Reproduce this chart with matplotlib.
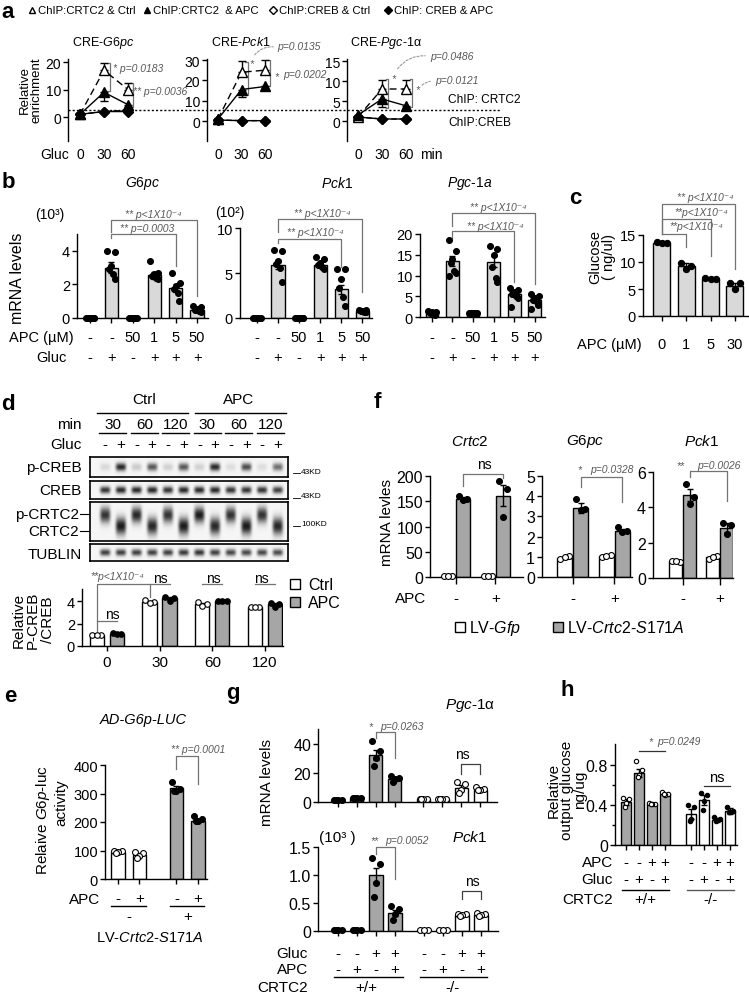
import numpy as np
import matplotlib
matplotlib.use("Agg")
import matplotlib.pyplot as plt
from matplotlib.patches import Rectangle
from matplotlib.transforms import blended_transform_factory

plt.rcParams["font.family"] = ["Liberation Sans", "DejaVu Sans"]
plt.rcParams["mathtext.fontset"] = "custom"
plt.rcParams["mathtext.rm"] = "Liberation Sans"
plt.rcParams["mathtext.it"] = "Liberation Sans:italic"
plt.rcParams["axes.linewidth"] = 1.0

GREY = "#a6a6a6"
LIGHT = "#d9d9d9"
PCOL = "0.35"

# ---------------- data ----------------
# a : ChIP time course
a_time = [0, 30, 60]
a_titles = [r"CRE-$\it{G6pc}$", r"CRE-$\it{Pck1}$", r"CRE-$\it{Pgc}$-$\it{1}$α"]
crtc2_ctrl = [[1, 17, 10], [1, 24, 25], [1, 8, 8]]
crtc2_ctrl_err = [[0.5, 2.5, 2.3], [0.5, 5.5, 5.0], [0.3, 2.3, 2.3]]
crtc2_apc = [[1, 9, 4.5], [1, 15.5, 17], [1.5, 5.5, 3.8]]
crtc2_apc_err = [[0.5, 3.3, 1.0], [0.5, 3.5, 1.0], [0.3, 2.0, 0.5]]
creb_ctrl = [[1, 2, 2.5], [0.5, 0.2, 0.2], [1, 0.5, 0.5]]
creb_apc = [[1, 2, 2], [0.5, 0.2, 0.2], [1, 0.5, 0.5]]

# b : mRNA levels
b_apc = ["-", "-", "50", "1", "5", "50"]
b_gluc = ["-", "+", "-", "+", "+", "+"]
g6pc_b = [0.02, 3.0, 0.02, 2.55, 1.8, 0.5]
g6pc_b_err = [0.01, 0.35, 0.01, 0.2, 0.25, 0.06]
g6pc_b_pts = [[0.02] * 6, [4.0, 3.9, 3.1, 2.9, 2.6, 2.3], [0.02] * 6,
              [3.4, 2.7, 2.6, 2.5, 2.4, 2.3], [2.7, 2.1, 1.9, 1.7, 1.5, 1.0],
              [0.7, 0.65, 0.55, 0.5, 0.4, 0.35]]
pck1_b = [0.02, 5.9, 0.02, 5.85, 3.2, 0.8]
pck1_b_err = [0.01, 0.5, 0.01, 0.2, 0.5, 0.05]
pck1_b_pts = [[0.02] * 6, [7.6, 7.5, 6.3, 6.0, 5.6, 4.0], [0.02] * 6,
              [6.8, 6.6, 6.1, 5.9, 5.7, 5.5], [5.5, 5.5, 4.3, 3.3, 2.3, 1.3],
              [0.9, 0.85, 0.8, 0.75, 0.7, 0.7]]
pgc_b = [1.0, 13.5, 1.0, 13.3, 5.6, 4.2]
pgc_b_err = [0.2, 1.2, 0.1, 1.3, 0.5, 0.5]
pgc_b_pts = [[1.5, 1.3, 1.1, 0.9, 0.7, 0.6], [18.5, 16, 14, 13, 11, 10.5, 10], [1.0] * 6,
             [17, 16.5, 15, 12, 9.5, 8.5], [7, 6.5, 6, 5.5, 5, 4.5, 2.5],
             [5.5, 5, 4.5, 4, 3.5, 3, 2]]

# c : glucose output
c_apc = ["0", "1", "5", "30"]
c_glu = [13.6, 9.3, 6.9, 5.6]
c_glu_err = [0.1, 0.5, 0.1, 0.5]
c_glu_pts = [[13.7, 13.6, 13.6], [9.9, 9.3, 8.7], [7.0, 6.9, 6.9], [6.1, 6.1, 5.0]]

# d : western blot + quantification
d_min = ["30", "60", "120"]
d_gluc = ["-", "+"] * 6
pcreb_int = [0.12, 0.85, 0.18, 0.65, 0.15, 0.65, 0.15, 0.85, 0.1, 0.7, 0.1, 0.55]
creb_int = [0.8, 0.85, 0.85, 0.85, 0.8, 0.85, 0.85, 0.85, 0.8, 0.8, 0.8, 0.75]
crtc2_int = [0.8, 0.9, 0.85, 0.85, 0.8, 0.9, 0.9, 0.85, 0.8, 0.9, 0.8, 0.85]
crtc2_phos = [1, 0, 1, 0, 1, 0, 1, 0, 1, 0, 1, 0]
tub_int = [0.75, 0.75, 0.75, 0.75, 0.75, 0.78, 0.8, 0.75, 0.72, 0.72, 0.72, 0.7]
d_groups = ["0", "30", "60", "120"]
d_ctrl = [1.0, 3.9, 3.75, 3.5]
d_ctrl_err = [0.02, 0.1, 0.1, 0.03]
d_ctrl_pts = [[1, 1, 1], [4.1, 3.9, 3.8], [3.9, 3.7, 3.6], [3.5, 3.5, 3.5]]
d_apc = [1.1, 4.3, 4.0, 3.75]
d_apc_err = [0.05, 0.1, 0.03, 0.1]
d_apc_pts = [[1.2, 1.1, 1.05], [4.4, 4.3, 4.0], [4.0, 4.0, 4.0], [3.8, 3.7, 3.5]]

# e : luciferase
e_apc = ["-", "+", "-", "+"]
e_lv = ["-", "+"]
e_luc = [95, 83, 318, 205]
e_luc_err = [4, 7, 8, 5]
e_luc_pts = [[100, 97, 93, 90], [95, 90, 80, 75], [340, 315, 310, 308], [220, 210, 205, 203]]

# f : LV-Crtc2-S171A
f_genes = ["Crtc2", "G6pc", "Pck1"]
f_apc = ["-", "+"]
f_gfp = [[2, 2], [0.95, 1.05], [0.95, 1.2]]
f_gfp_err = [[0.3, 0.3], [0.05, 0.05], [0.03, 0.05]]
f_gfp_pts = [[[2, 2, 2], [2, 2, 2]], [[0.9, 1.05, 1.0], [1.0, 1.1, 1.05]],
             [[0.95, 0.9, 0.95], [1.1, 1.25, 1.2]]]
f_s171a = [[155, 161], [3.4, 2.3], [4.7, 2.85]]
f_s171a_err = [[3, 21], [0.25, 0.1], [0.35, 0.25]]
f_s171a_pts = [[[160, 155, 152], [190, 175, 118]], [[3.85, 3.35, 3.3], [2.5, 2.3, 2.25]],
               [[5.3, 4.6, 4.2], [3.1, 3.0, 2.5]]]

# g : CRTC2 knockout hepatocytes
g_gluc = ["-", "-", "+", "+", "-", "-", "+", "+"]
g_apc = ["-", "+", "-", "+", "-", "+", "-", "+"]
g_pgc = [1.5, 2.5, 32, 16, 2, 2, 9.5, 8.5]
g_pgc_err = [0.2, 0.3, 3.5, 1.2, 0.2, 0.2, 2, 0.8]
g_pgc_pts = [[1.5] * 4, [2.5] * 4, [42, 35, 30, 25], [18, 16.5, 15.5, 14],
             [2] * 4, [2] * 4, [14, 12, 8, 6], [10, 9, 8.5, 8]]
g_pck = [0.01, 0.01, 1.0, 0.32, 0.01, 0.01, 0.28, 0.28]
g_pck_err = [0, 0, 0.12, 0.06, 0, 0, 0.02, 0.02]
g_pck_pts = [[0.01] * 4, [0.01] * 4, [1.3, 1.2, 0.85, 0.6], [0.45, 0.4, 0.3, 0.2],
             [0.01] * 3, [0.01] * 3, [0.3, 0.3, 0.28, 0.26], [0.32, 0.3, 0.28, 0.27]]

# h : glucose output
h_apc = ["-", "-", "+", "+", "-", "-", "+", "+"]
h_gluc = ["-", "+", "-", "+", "-", "+", "-", "+"]
h_glu = [0.43, 0.72, 0.41, 0.51, 0.31, 0.45, 0.25, 0.34]
h_glu_err = [0.03, 0.04, 0.01, 0.01, 0.05, 0.05, 0.02, 0.03]
h_glu_pts = [[0.47, 0.46, 0.42, 0.38], [0.84, 0.75, 0.7, 0.68], [0.42, 0.41, 0.41, 0.41],
             [0.53, 0.51, 0.5, 0.51], [0.4, 0.38, 0.26, 0.24], [0.52, 0.5, 0.44, 0.35],
             [0.28, 0.26, 0.25, 0.24], [0.38, 0.34, 0.33, 0.33]]
genotype = ["+/+", "-/-"]

# ---------------- helpers ----------------
W, H = 749, 995
fig = plt.figure(figsize=(W / 100, H / 100), dpi=100)
ov = fig.add_axes([0, 0, 1, 1], zorder=10)
ov.set_xlim(0, W)
ov.set_ylim(H, 0)
ov.axis("off")
ov.patch.set_alpha(0)


def panel(l, t, r, b):
    ax = fig.add_axes([l / W, 1 - b / H, (r - l) / W, (b - t) / H])
    ax.patch.set_alpha(0)
    ax.spines[["top", "right"]].set_visible(False)
    ax.tick_params(length=3.5, width=1, pad=1.5, labelsize=10.5)
    return ax


def txt(x, y, s, size=10.5, **kw):
    kw.setdefault("ha", "center")
    kw.setdefault("va", "center")
    ov.text(x, y, s, fontsize=size, **kw)


def ptxt(x, y, s, size=7.5, **kw):
    kw.setdefault("ha", "left")
    txt(x, y, s, size=size, style="italic", color=PCOL, **kw)


def row(ax, xs, labels, y, size=10.5, **kw):
    tr = blended_transform_factory(ax.transData, ov.transData)
    for x, s in zip(xs, labels):
        ax.text(x, y, s, transform=tr, ha="center", va="center", fontsize=size, **kw)


def uline(ax, x1, x2, y, color="black"):
    tr = blended_transform_factory(ax.transData, ov.transData)
    ax.plot([x1, x2], [y, y], transform=tr, color=color, lw=1, clip_on=False)


def bracket(ax, x1, x2, y, y1, y2, color="0.45"):
    ax.plot([x1, x1, x2, x2], [y1, y, y, y2], color=color, lw=0.9, clip_on=False)


JIT = np.array([-1, 1, 0, -0.5, 0.5, 0.9, -0.9])


def bars(ax, pos, means, errs, pts, colors, faces, width, ms=16, spread=0.3):
    for x, m, e, p, c, f in zip(pos, means, errs, pts, colors, faces):
        ax.bar(x, m, width, color=c, edgecolor="black", lw=1, zorder=2)
        ax.errorbar(x, m, yerr=e, fmt="none", ecolor="black", elinewidth=1,
                    capsize=2.5, capthick=1, zorder=3)
        off = np.resize(JIT, len(p)) * spread * width
        ax.scatter(x + off, p, s=ms, facecolor=f, edgecolor="black", lw=0.8,
                   zorder=4, clip_on=False)


def letter(x, y, s):
    txt(x, y, s, size=16, weight="bold")


# ---------------- a ----------------
letter(8, 12, "a")
leg = [("^", "white", "ChIP:CRTC2 & Ctrl"), ("^", "black", "ChIP:CRTC2  & APC"),
       ("D", "white", "ChIP:CREB & Ctrl"), ("D", "black", "ChIP: CREB & APC")]
for (mk, fc, lab), mx in zip(leg, [32, 147, 273, 388]):
    ov.plot(mx, 11, marker=mk, ms=5 if mk == "^" else 4.5, mfc=fc, mec="black", mew=1)
    txt(mx + 6, 11, lab, size=8.2, ha="left")

a_boxes = [(68, 60, 136, 142), (207, 60, 280, 142), (347, 60, 420, 142)]
a_xlims = [(-15, 70), (-14, 79), (-13.75, 77.5)]
a_ylims = [(-8.7, 21.1), (-9.8, 30.5), (-5, 15.5)]
a_yticks = [[0, 10, 20], [0, 10, 20, 30], [0, 5, 10, 15]]
a_tx = [103, 241, 386]
a_axes = []
for k in range(3):
    ax = panel(*a_boxes[k])
    ax.spines["bottom"].set_visible(False)
    ax.set_xlim(*a_xlims[k])
    ax.set_ylim(*a_ylims[k])
    ax.set_yticks(a_yticks[k])
    ax.set_xticks([])
    ax.tick_params(labelsize=10)
    z = np.zeros(3)
    ax.errorbar(a_time, creb_ctrl[k], color="black", ls=(0, (4, 2)), lw=1, marker="D",
                ms=5, mfc="white", mec="black", zorder=3)
    ax.errorbar(a_time, creb_apc[k], color="black", lw=1, marker="D", ms=5,
                mfc="black", mec="black", zorder=3)
    ax.errorbar(a_time, crtc2_ctrl[k], yerr=[z, crtc2_ctrl_err[k]], color="black",
                ls=(0, (5, 3)), lw=1, marker="^", ms=6.5, mfc="white", mec="black",
                capsize=3, elinewidth=1, zorder=4)
    ax.errorbar(a_time, crtc2_apc[k], yerr=[crtc2_apc_err[k], z], color="black", lw=1,
                marker="^", ms=6.5, mfc="black", mec="black", capsize=3, elinewidth=1,
                zorder=4)
    row(ax, a_time, [str(t) for t in a_time], 155, size=10)
    txt(a_tx[k], 43, a_titles[k], size=9)
    a_axes.append(ax)

txt(55, 155, "Gluc", size=10)
txt(431, 155, "min", size=10)
txt(31, 90, "Relative\nenrichment", size=9.5, rotation=90, linespacing=1.0)
ov.plot([68, 500], [111, 111], ls=(0, (1.5, 1.5)), color="black", lw=1)
txt(448, 100, "ChIP: CRTC2", size=8.6, ha="left")
txt(448, 123, "ChIP:CREB", size=8.6, ha="left")

ax0, ax1, ax2 = a_axes
ax0.plot([34, 37, 37, 34], [19.5, 19.5, 9.5, 9.5], color="0.45", lw=0.9, clip_on=False)
ptxt(113, 69, "* p=0.0183")
ax0.plot([63, 66, 66, 63], [12.5, 12.5, 3.5, 3.5], color="0.45", lw=0.9, clip_on=False)
ptxt(133, 92, "** p=0.0036")
ax1.plot([35, 38.3, 38.3, 35], [29, 29, 13, 13], color="0.45", lw=0.9, clip_on=False)
ptxt(249, 64, "*")
ax1.plot([63, 66.4, 66.4, 63], [30, 30, 17, 17], color="0.45", lw=0.9, clip_on=False)
ptxt(274, 77, "*")
ptxt(283, 75, "p=0.0202")
ptxt(277, 47, "p=0.0135")
ax2.plot([34.5, 37.5, 37.5, 34.5], [10.5, 10.5, 3.2, 3.2], color="0.45", lw=0.9, clip_on=False)
ptxt(391, 79, "*")
ax2.plot([64.5, 67.5, 67.5, 64.5], [10.5, 10.5, 3.5, 3.5], color="0.45", lw=0.9, clip_on=False)
ptxt(415, 90, "*")
ptxt(435, 81, "p=0.0121")
ptxt(430, 57, "p=0.0486")
for p0, p1, rad in [((253, 58), (276, 48), -0.3), ((396, 72), (428, 57), -0.3),
                    ((420, 88), (433, 82), -0.2)]:
    ov.annotate("", xy=p1, xytext=p0,
                arrowprops=dict(arrowstyle="-", ls=(0, (2, 1.5)), color="0.6", lw=0.8,
                                connectionstyle=f"arc3,rad={rad}"))

# ---------------- b ----------------
letter(8, 182, "b")
b_specs = [
    ((77, 235, 208, 319), (-0.61, 5.51), (0, 5), [0, 2, 4], g6pc_b, g6pc_b_err, g6pc_b_pts,
     r"$\it{G6pc}$", 143, "(10³)", (50, 215)),
    ((240, 229, 372, 319), (-0.8, 5.45), (0, 10), [0, 5, 10], pck1_b, pck1_b_err, pck1_b_pts,
     r"$\it{Pck1}$", 337, "(10²)", (230, 213)),
    ((420, 235, 545, 318), (-0.58, 5.5), (0, 20), [0, 5, 10, 15, 20], pgc_b, pgc_b_err,
     pgc_b_pts, r"$\it{Pgc}$-$\it{1a}$", 470, None, None),
]
b_axes = []
for box, xl, yl, yt, m, e, p, title, tx, mult, mxy in b_specs:
    ax = panel(*box)
    ax.set_xlim(*xl)
    ax.set_ylim(*yl)
    ax.set_yticks(yt)
    ax.set_xticks(range(6))
    ax.set_xticklabels([])
    bars(ax, range(6), m, e, p, [LIGHT] * 6, ["black"] * 6, 0.62, ms=18)
    row(ax, range(6), b_apc, 338)
    row(ax, range(6), b_gluc, 358)
    txt(tx, 183, title, size=10)
    if mult:
        txt(mxy[0], mxy[1], mult, size=10)
    b_axes.append(ax)
txt(74, 338, "APC (µM)", ha="right")
txt(67, 358, "Gluc", ha="right")
txt(18, 278, "mRNA levels", size=11.5, rotation=90)

bracket(b_axes[0], 1, 5, 5.85, 5.13, 1.3)
bracket(b_axes[0], 1, 4, 5.0, 4.75, 3.1)
ptxt(153, 215, "** p<1X10⁻⁴", ha="center")
ptxt(147, 229, "** p=0.0003", ha="center")
bracket(b_axes[1], 1, 5, 11.0, 9.6, 2.9)
bracket(b_axes[1], 1, 4, 8.8, 8.3, 5.7)
ptxt(322, 214, "** p<1X10⁻⁴", ha="center")
ptxt(315, 233, "** p<1X10⁻⁴", ha="center")
bracket(b_axes[2], 1, 5, 25.0, 21.9, 7.9)
bracket(b_axes[2], 1, 4, 20.7, 19.0, 8.4)
ptxt(498, 208, "** p<1X10⁻⁴", ha="center")
ptxt(495, 227, "** p<1X10⁻⁴", ha="center")

# ---------------- c ----------------
letter(575, 198, "c")
axc = panel(643, 236, 748, 317)
axc.set_xlim(-0.78, 3.54)
axc.set_ylim(0, 15)
axc.set_yticks([0, 5, 10, 15])
axc.set_xticks(range(4))
axc.set_xticklabels([])
bars(axc, range(4), c_glu, c_glu_err, c_glu_pts, [LIGHT] * 4, ["black"] * 4, 0.7, ms=20)
row(axc, range(4), c_apc, 345)
txt(642, 345, "APC (µM)", ha="right")
txt(602, 257, "Glucose\n( ng/ul)", size=10.5, rotation=90, linespacing=0.95)
bracket(axc, 0, 3, 20.7, 15.2, 8.7)
bracket(axc, 0, 2, 18.0, 15.2, 11.1)
bracket(axc, 0, 1, 15.2, 15.2, 12.8)
ptxt(705, 198, "** p<1X10⁻⁴", ha="center")
ptxt(701, 213, "**p<1X10⁻⁴", ha="center")
ptxt(696, 227, "**p<1X10⁻⁴", ha="center")

# ---------------- d : blot ----------------
letter(8, 405, "d")
lanes = np.arange(12)
blot_specs = [((90, 458, 288, 478), pcreb_int, None),
              ((90, 482, 288, 500), creb_int, None),
              ((90, 503, 288, 542), crtc2_int, crtc2_phos),
              ((90, 545, 288, 562), tub_int, None)]
blot_axes = []
for box, inten, phos in blot_specs:
    ax = fig.add_axes([box[0] / W, 1 - box[3] / H, (box[2] - box[0]) / W, (box[3] - box[1]) / H])
    xs = np.linspace(-0.95, 11.63, 300)
    ys = np.linspace(0, 1, 60)
    X, Y = np.meshgrid(xs, ys)
    img = np.zeros_like(X)
    for i, a in enumerate(inten):
        if phos is None:
            yc, sy = 0.5, 0.2
        else:
            yc, sy = (0.33, 0.2) if phos[i] else (0.62, 0.22)
        img += a * np.exp(-((X - i) / 0.33) ** 4) * np.exp(-((Y - yc) / sy) ** 2)
    ax.imshow(img + 0.04, cmap="gray_r", vmin=0, vmax=1.05, aspect="auto",
              extent=(-0.95, 11.63, 1, 0), interpolation="bilinear")
    ax.set_xlim(-0.95, 11.63)
    ax.set_ylim(1, 0)
    ax.set_xticks([])
    ax.set_yticks([])
    for s in ax.spines.values():
        s.set_linewidth(1.2)
    blot_axes.append(ax)
bax = blot_axes[0]
row(bax, lanes, d_gluc, 445, size=11)
row(bax, [0.5, 2.5, 4.5, 6.5, 8.5, 10.5], d_min * 2, 425, size=11)
for k in range(6):
    uline(bax, 2 * k - 0.35, 2 * k + 1.35, 434)
row(bax, [2.5, 8.5], ["Ctrl", "APC"], 400, size=11)
uline(bax, -0.5, 5.3, 414)
uline(bax, 5.7, 11.5, 414)
txt(82, 425, "min", size=11, ha="right")
txt(82, 445, "Gluc", size=11, ha="right")
txt(82, 468, "p-CREB", size=11, ha="right")
txt(82, 491, "CREB", size=11, ha="right")
txt(79, 515, "p-CRTC2", size=11, ha="right")
txt(79, 532, "CRTC2", size=11, ha="right")
ov.plot([80, 89], [515, 515], color="black", lw=0.8)
ov.plot([80, 89], [532, 532], color="black", lw=0.8)
txt(82, 555, "TUBLIN", size=11, ha="right")
for yy, lab in [(472, "43KD"), (497, "43KD"), (525, "100KD")]:
    ov.plot([293, 300], [yy + 2, yy + 2], color="black", lw=0.6)
    txt(301, yy, lab, size=6, ha="left")

# d : quantification
axd = panel(82, 590, 283, 647)
axd.set_xlim(-0.47, 3.34)
axd.set_ylim(0, 5.07)
axd.set_yticks([0, 2, 4])
axd.set_xticks(range(4))
axd.set_xticklabels([])
dg = np.arange(4)
bars(axd, dg - 0.19, d_ctrl, d_ctrl_err, d_ctrl_pts, ["white"] * 4, ["white"] * 4, 0.27, ms=16)
bars(axd, dg + 0.19, d_apc, d_apc_err, d_apc_pts, [GREY] * 4, ["black"] * 4, 0.27, ms=16)
row(axd, dg, d_groups, 663, size=11)
txt(33, 620, "Relative\nP-CREB\n/CREB", size=11, rotation=90, linespacing=1.05)
axd.plot([-0.19, 0.19], [2.2, 2.2], color="0.45", lw=0.9, clip_on=False)
txt(112, 615, "ns", size=10)
bracket(axd, -0.19, 0.81, 5.55, 1.3, 4.4)
ptxt(90, 577, "**p<1X10⁻⁴", size=7.5)
for g, xc in zip([1, 2, 3], [160, 213, 261]):
    axd.plot([g - 0.19, g + 0.19], [5.55, 5.55], color="0.45", lw=0.9, clip_on=False)
    txt(xc, 579, "ns", size=10)
for yy, fc, lab in [(585, "white", "Ctrl"), (603, GREY, "APC")]:
    ov.add_patch(Rectangle((290, yy - 5), 10, 10, facecolor=fc, edgecolor="black", lw=1))
    txt(308, yy, lab, size=11.5, ha="left")

# ---------------- e ----------------
letter(10, 697, "e")
e_pos = np.arange(4) + 0.72 * (np.arange(4) >= 2)
axe = panel(105, 766, 207, 880)
axe.set_xlim(-0.6, 4.14)
axe.set_ylim(0, 400)
axe.set_yticks([0, 100, 200, 300, 400])
axe.set_xticks(e_pos)
axe.set_xticklabels([])
bars(axe, e_pos, e_luc, e_luc_err, e_luc_pts, ["white", "white", GREY, GREY],
     ["white", "white", "black", "black"], 0.62, ms=18)
row(axe, e_pos, e_apc, 899, size=11)
uline(axe, e_pos[0] - 0.3, e_pos[1] + 0.3, 907)
uline(axe, e_pos[2] - 0.3, e_pos[3] + 0.3, 907)
row(axe, [e_pos[:2].mean(), e_pos[2:].mean()], e_lv, 917, size=11)
txt(85, 900, "APC", size=11)
txt(150, 938, r"LV-$\it{Crtc2}$-$\it{S171A}$", size=10.5)
txt(143, 720, "AD-G6p-LUC", size=10.5, style="italic")
txt(43, 820, r"Relaive $\it{G6p}$-luc", size=11, rotation=90)
txt(61, 803, "activity", size=11, rotation=90)
bracket(axe, e_pos[2], e_pos[3], 431, 386, 333)
ptxt(198, 750, "** p=0.0001", ha="center")

# ---------------- f ----------------
letter(377, 403, "f")
f_boxes = [(430, 477, 523, 578), (542, 477, 632, 578), (653, 473, 733, 579)]
f_xlims = [(-0.64, 1.69), (-0.73, 1.42), (-0.8, 1.36)]
f_ylims = [(0, 200), (0, 5), (0, 6)]
f_yticks = [[0, 50, 100, 150, 200], [0, 1, 2, 3, 4, 5], [0, 2, 4, 6]]
f_tx = [470, 585, 702]
f_axes = []
fg = np.arange(2)
for k in range(3):
    ax = panel(*f_boxes[k])
    ax.set_xlim(*f_xlims[k])
    ax.set_ylim(*f_ylims[k])
    ax.set_yticks(f_yticks[k])
    ax.set_xticks(fg)
    ax.set_xticklabels([])
    ax.tick_params(labelsize=11.5)
    ax.tick_params(axis="x", length=5)
    bars(ax, fg - 0.19, f_gfp[k], f_gfp_err[k], f_gfp_pts[k], ["white"] * 2, ["white"] * 2,
         0.36, ms=18)
    bars(ax, fg + 0.19, f_s171a[k], f_s171a_err[k], f_s171a_pts[k], [GREY] * 2,
         ["black"] * 2, 0.36, ms=18)
    row(ax, fg, f_apc, 599, size=11)
    txt(f_tx[k], 442, r"$\it{%s}$" % f_genes[k], size=11)
    f_axes.append(ax)
txt(411, 599, "APC", size=11)
txt(387, 523, "mRNA levles", size=11, rotation=90)
bracket(f_axes[0], 0.19, 1.19, 204, 180, 196)
txt(484, 465, "ns", size=10)
bracket(f_axes[1], 0.19, 1.19, 4.95, 4.45, 3.7)
ptxt(577, 470, "*")
ptxt(590, 470, "p=0.0328")
bracket(f_axes[2], 0.19, 1.19, 6.05, 5.7, 4.35)
ptxt(676, 466, "**")
ptxt(697, 466, "p=0.0026")
for x0, fc, lab in [(455, "white", r"LV-$\it{Gfp}$"), (553, GREY, r"LV-$\it{Crtc2}$-$\it{S171A}$")]:
    ov.add_patch(Rectangle((x0, 623), 10, 10, facecolor=fc, edgecolor="black", lw=1))
    txt(x0 + 14, 628, lab, size=11.5, ha="left")

# ---------------- g ----------------
letter(233, 693, "g")
g_pos = np.arange(8) + 0.53 * (np.arange(8) >= 4)
g_cols = [GREY] * 4 + ["white"] * 4
g_faces = ["black"] * 4 + ["white"] * 4
axg1 = panel(318, 730, 497, 803)
axg1.set_ylim(0, 50)
axg1.set_yticks([0, 20, 40])
axg2 = panel(318, 848, 498, 932)
axg2.set_ylim(0, 1.5)
axg2.set_yticks([0, 0.5, 1.0, 1.5])
axg2.set_yticklabels(["0", "0.5", "1.0", "1.5"])
for ax, m, e, p in [(axg1, g_pgc, g_pgc_err, g_pgc_pts), (axg2, g_pck, g_pck_err, g_pck_pts)]:
    ax.set_xlim(-1.05, 8.42)
    ax.set_xticks(g_pos)
    ax.set_xticklabels([])
    ax.tick_params(labelsize=11.5)
    bars(ax, g_pos, m, e, p, g_cols, g_faces, 0.7, ms=18)
txt(470, 705, r"$\it{Pgc}$-$\it{1}$α", size=11)
txt(470, 838, r"$\it{Pck1}$", size=11)
txt(337, 838, "(10³ )", size=11)
txt(267, 782, "mRNA levels", size=11, rotation=90)
row(axg2, g_pos, g_gluc, 954, size=11)
row(axg2, g_pos, g_apc, 970, size=11)
uline(axg2, g_pos[0] - 0.2, g_pos[3] + 0.4, 978)
uline(axg2, g_pos[4] - 0.2, g_pos[7] + 0.3, 978)
row(axg2, [g_pos[:4].mean(), g_pos[4:].mean()], genotype, 988, size=11)
txt(308, 954, "Gluc", size=11, ha="right")
txt(308, 970, "APC", size=11, ha="right")
txt(308, 988, "CRTC2", size=11, ha="right")
bracket(axg1, g_pos[2], g_pos[3], 48, 43.5, 30)
ptxt(368, 727, "*")
ptxt(380, 727, "p=0.0263")
bracket(axg1, g_pos[6], g_pos[7], 26, 19, 19, color="0.25")
txt(462, 755, "ns", size=10)
bracket(axg2, g_pos[2], g_pos[3], 1.5, 1.38, 0.93)
ptxt(370, 841, "**")
ptxt(385, 841, "p=0.0052")
bracket(axg2, g_pos[6], g_pos[7], 0.71, 0.57, 0.57, color="0.25")
txt(472, 882, "ns", size=10)

# ---------------- h ----------------
letter(567, 690, "h")
h_pos = np.arange(8) + 1.0 * (np.arange(8) >= 4)
axh = panel(615, 745, 737, 846)
axh.set_xlim(-0.85, 8.54)
axh.set_ylim(0, 1.01)
axh.set_yticks([0, 0.4, 0.8])
axh.set_yticklabels(["0", "0.4", "0.8"])
axh.set_yticks([0.2, 0.6], minor=True)
axh.tick_params(which="minor", length=2.5, width=1)
axh.tick_params(labelsize=11.5)
axh.set_xticks(h_pos)
axh.set_xticklabels([])
bars(axh, h_pos, h_glu, h_glu_err, h_glu_pts, g_cols, ["white"] * 4 + ["black"] * 4,
     0.75, ms=10)
row(axh, h_pos, h_apc, 863, size=11)
row(axh, h_pos, h_gluc, 880, size=11)
uline(axh, h_pos[0] - 0.3, h_pos[3] + 0.3, 891)
uline(axh, h_pos[4] - 0.3, h_pos[7] + 0.3, 891, color="0.35")
row(axh, [h_pos[:4].mean(), h_pos[4:].mean()], genotype, 900, size=11)
txt(613, 863, "APC", size=11, ha="right")
txt(613, 880, "Gluc", size=11, ha="right")
txt(613, 900, "CRTC2", size=11, ha="right")
txt(567, 790, "Relative\noutput glucose\nng/ug", size=11, rotation=90, linespacing=0.9)
axh.plot([h_pos[1], h_pos[3]], [0.94, 0.94], color="0.2", lw=0.9, clip_on=False)
ptxt(648, 742, "*")
ptxt(657, 742, "p=0.0249")
axh.plot([h_pos[5], h_pos[7]], [0.59, 0.59], color="0.2", lw=0.9, clip_on=False)
txt(717, 778, "ns", size=10.5)

fig.savefig("out.png", dpi=100)
